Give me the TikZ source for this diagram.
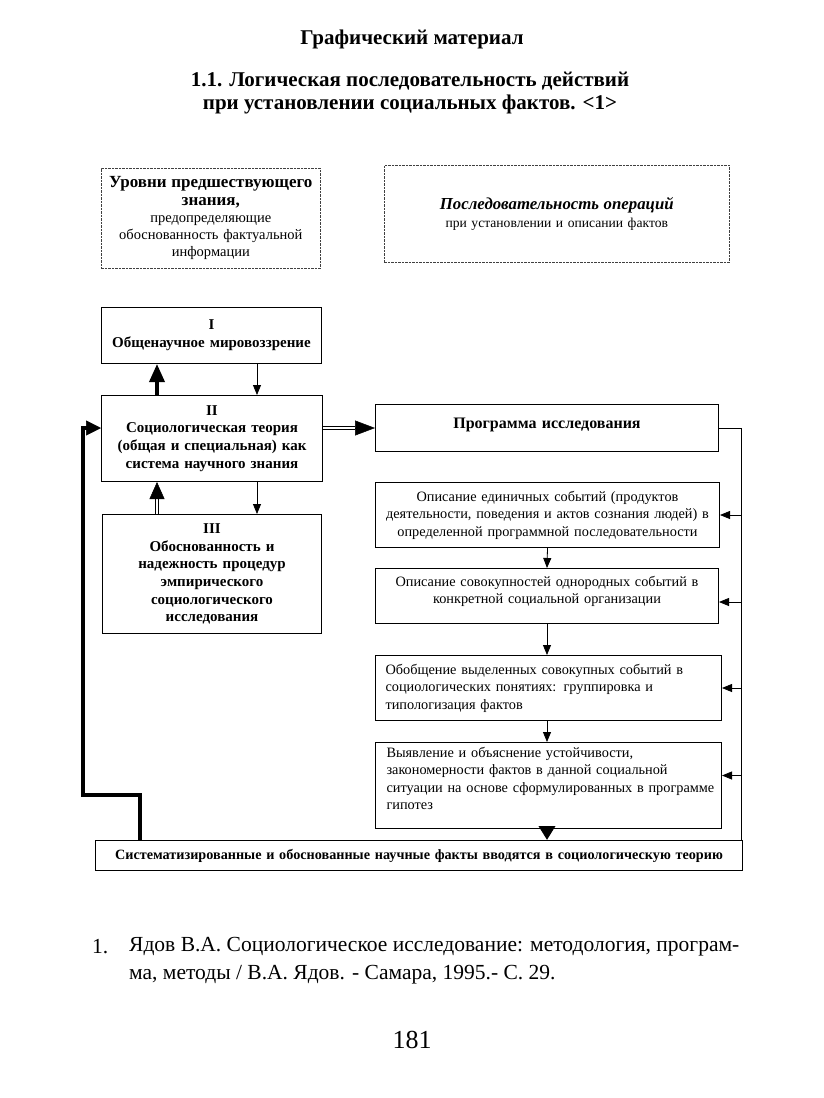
\documentclass[tikz,border=0pt]{standalone}
\usepackage{fontspec}
\setmainfont{Liberation Serif}
\usetikzlibrary{arrows.meta,calc}
\tikzset{
  box/.style={draw, line width=1pt, inner sep=2pt, anchor=north west, align=center},
  dbox/.style={draw=black!75, line width=0.6pt, dash pattern=on 2.5pt off 1pt, anchor=north west, align=center, inner sep=2pt},
  bodytxt/.style={font=\fontsize{14.3}{17.5}\selectfont},
  boldtxt/.style={font=\fontsize{15}{17.7}\selectfont\bfseries},
  thinarr/.style={line width=0.8pt, -{Triangle[width=8pt,length=10pt]}},
  bigarr/.style={line width=3.5pt, -{Triangle[width=15pt,length=18pt]}},
  dblline/.style={double, double distance=1.6pt, line width=1.2pt},
  fbline/.style={line width=3.5pt},
}
\begin{document}
\begin{tikzpicture}[x=1pt,y=-1pt]
\useasboundingbox[fill=white] (0,0) rectangle (823,1098);

% titles
\node[font=\fontsize{21}{23}\selectfont\bfseries] (t1) at (412,39) {Графический материал};
\node[font=\fontsize{21}{23}\selectfont\bfseries, align=center] (t2) at (410,93) {1.1. Логическая последовательность действий\\при установлении социальных фактов. <1>};

% header boxes
\node[dbox, font=\fontsize{14.5}{17.2}\selectfont, minimum width=219pt, minimum height=100pt, text width=215pt] (hl) at (101,168)
  {{\fontsize{17}{17.2}\selectfont\bfseries Уровни предшествующего}\\{\fontsize{17}{17.2}\selectfont\bfseries знания,}\\предопределяющие\\обоснованность фактуальной\\информации};
\node[dbox, font=\fontsize{13.6}{17.5}\selectfont, minimum width=345pt, minimum height=97pt, text width=330pt] (hr) at (384,165)
  {{\fontsize{16.8}{17.5}\selectfont\bfseries\itshape Последовательность операций}\\при установлении и описании фактов};

% left column
\node[box, boldtxt, minimum width=220pt, minimum height=56pt, text width=214pt] (I) at (101,307)
  {I\\Общенаучное мировоззрение};
\node[box, boldtxt, minimum width=221pt, minimum height=86pt, text width=214pt] (II) at (101,395)
  {II\\Социологическая теория\\(общая и специальная) как\\система научного знания};
\node[box, boldtxt, minimum width=219pt, minimum height=119pt, text width=214pt] (III) at (102,514)
  {III\\Обоснованность и\\надежность процедур\\эмпирического\\социологического\\исследования};

% right column
\node[box, font=\fontsize{16}{18}\selectfont\bfseries, minimum width=343pt, minimum height=47pt, text width=335pt, text depth=10pt] (prog) at (375,404)
  {Программа исследования};
\node[box, bodytxt, minimum width=343pt, minimum height=65pt, text width=340pt] (A) at (375,482)
  {Описание единичных событий (продуктов\\деятельности, поведения и актов сознания людей) в\\определенной программной последовательности};
\node[box, minimum width=343pt, minimum height=55pt] (B) at (375,568) {};
\node[bodytxt, align=center, text width=340pt, inner sep=0pt] (Btxt) at ([yshift=4.5pt]B.center)
  {Описание совокупностей однородных событий в\\конкретной социальной организации};
\node[box, bodytxt, align=left, minimum width=346pt, minimum height=65pt, text width=326pt, inner xsep=10pt] (C) at (375,655)
  {Обобщение выделенных совокупных событий в\\социологических понятиях: группировка и\\типологизация фактов};
\node[box, minimum width=346pt, minimum height=86pt] (D) at (375,742) {};
\node[bodytxt, align=left, text width=330pt, inner sep=0pt] (Dtxt) at ([xshift=3pt,yshift=7pt]D.center)
  {Выявление и объяснение устойчивости,\\закономерности фактов в данной социальной\\ситуации на основе сформулированных в программе\\гипотез};

% bottom box
\node[box, font=\fontsize{14.2}{17}\selectfont\bfseries, minimum width=647pt, minimum height=30pt, text width=643pt] (bot) at (95,840)
  {Систематизированные и обоснованные научные факты вводятся в социологическую теорию};

% left column arrows
\draw[bigarr] ([xshift=56pt]II.north west) -- ([xshift=56pt]I.south west);
\draw[thinarr] ([xshift=156pt]I.south west) -- ([xshift=156pt]II.north west);
\draw[dblline] ([xshift=55pt]III.north west) -- ([xshift=56pt,yshift=-16pt]II.south west);
\draw[line width=0.5pt, -{Triangle[width=15pt,length=17pt]}] ([xshift=56pt,yshift=-16pt]II.south west) -- ([xshift=56pt]II.south west);
\draw[thinarr] ([xshift=156pt]II.south west) -- ([xshift=155pt]III.north west);

% II -> programme
\coordinate (pin) at (II.east |- prog.west);
\coordinate (ptip) at ([xshift=-20pt]prog.west);
\draw[dblline] (pin) -- (ptip);
\draw[line width=0.5pt, -{Triangle[width=15pt,length=20pt]}] (ptip) -- (prog.west);

% right feedback line
\coordinate (rtop) at ([xshift=22pt]prog.east);
\coordinate (rbot) at (rtop |- bot.north);
\draw[line width=1pt] (prog.east) -- (rtop) -- (rbot);
\draw[thinarr] (rtop |- A.east) -- (A.east);
\draw[thinarr] ([yshift=-6pt]rtop |- B.east) -- ([yshift=-6pt]B.east);
\draw[thinarr] (rtop |- C.east) -- (C.east);
\draw[thinarr] ([yshift=10pt]rtop |- D.east) -- ([yshift=10pt]D.east);

% down arrows in right column
\draw[thinarr] (A.south) -- (B.north);
\draw[thinarr] (B.south) -- (B.south |- C.north);
\draw[thinarr] ([xshift=-1.5pt]C.south) -- ([xshift=-1.5pt]D.north);
\draw[line width=3.5pt, -{Triangle[width=16pt,length=14pt]}] ([xshift=-1.5pt]D.south) -- ([xshift=-1.5pt]D.south |- bot.north);

% left feedback line
\coordinate (fb0) at ([xshift=45pt]bot.north west);
\coordinate (fb1) at ([yshift=45pt]fb0);
\coordinate (fb2) at (83,795);
\coordinate (fbin) at (II.west |- prog.west);
\draw[fbline] (fb0) -- (fb1) -- (fb2) -- (fb2 |- fbin) -- ([xshift=-14pt]fbin);
\draw[line width=0.5pt, -{Triangle[width=15pt,length=15pt]}] ([xshift=-15pt]fbin) -- (fbin);

% footnote
\node[font=\fontsize{21.5}{28}\selectfont, anchor=west, inner sep=0pt] (fnn) at (92,947) {1.};
\node[font=\fontsize{21.5}{28}\selectfont, anchor=west, align=left, inner sep=0pt] (fn) at (129,961)
  {Ядов В.А. Социологическое исследование: методология, програм-\\ма, методы / В.А. Ядов. - Самара, 1995.- С. 29.};
\node[font=\fontsize{26}{28}\selectfont] (pg) at (412,1040) {181};
\end{tikzpicture}
\end{document}
